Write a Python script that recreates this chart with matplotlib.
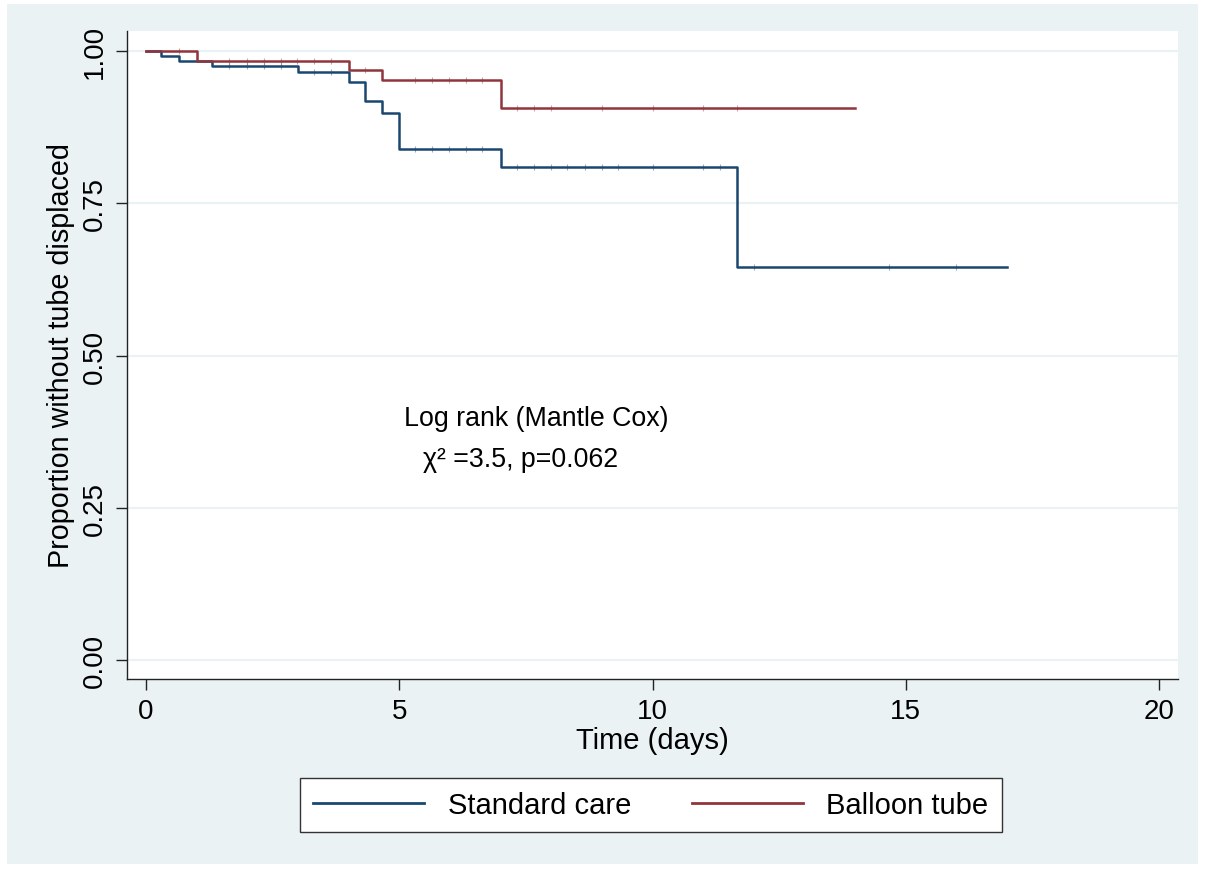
import numpy as np
import matplotlib
matplotlib.use("Agg")
import matplotlib.pyplot as plt
from matplotlib.patches import Rectangle

plt.rcParams["font.family"] = ["Liberation Sans", "DejaVu Sans"]

# Kaplan-Meier steps
std_times = [0, 0.3, 0.65, 1.3, 3.0, 4.0, 4.33, 4.65, 5.0, 7.0, 11.67, 17.0]
std_surv = [1.0, 0.992, 0.983, 0.975, 0.965, 0.95, 0.918, 0.899, 0.84, 0.81, 0.645, 0.645]
std_censor = [1.64, 2.0, 2.32, 2.66, 3.32, 3.65, 5.32, 5.65, 5.98, 6.31, 6.64,
              7.32, 7.67, 8.0, 8.32, 8.66, 9.0, 9.32, 10.0, 11.0, 11.33,
              12.0, 14.67, 16.0]

bal_times = [0, 1.0, 4.0, 4.65, 7.0, 14.0]
bal_surv = [1.0, 0.983, 0.969, 0.952, 0.907, 0.907]
bal_censor = [0.65, 1.64, 2.0, 2.32, 2.66, 2.99, 3.32, 3.65, 4.32, 5.32, 5.65,
              5.98, 6.31, 6.64, 7.32, 7.67, 8.0, 9.0, 10.0, 11.0, 11.67]

labels = ["Standard care", "Balloon tube"]
x_ticks = [0, 5, 10, 15, 20]
y_ticks = [0.0, 0.25, 0.5, 0.75, 1.0]

blue = "#1a476f"
red = "#90353b"
bg = "#eaf2f3"


def surv_at(times, surv, t):
    idx = np.searchsorted(times, t, side="right") - 1
    return np.array(surv)[idx]


fig = plt.figure(figsize=(12.05, 8.7), dpi=100)
fig.patch.set_facecolor("white")
fig.add_artist(Rectangle((7 / 1205, 5 / 870), 1191 / 1205, 860 / 870,
                         transform=fig.transFigure, facecolor=bg,
                         edgecolor="none", zorder=-5))

ax = fig.add_axes([127 / 1205, 190 / 870, 1051 / 1205, 648 / 870])
ax.set_zorder(1)
ax.set_facecolor("white")

for y in y_ticks:
    ax.axhline(y, color=bg, lw=1.6, zorder=1)

l1, = ax.step(std_times, std_surv, where="post", color=blue, lw=1.8, zorder=3)
l2, = ax.step(bal_times, bal_surv, where="post", color=red, lw=1.8, zorder=3)

ax.plot(std_censor, surv_at(std_times, std_surv, std_censor), ls="none",
        marker="|", ms=5, mew=0.8, color=blue, alpha=0.45, zorder=4)
ax.plot(bal_censor, surv_at(bal_times, bal_surv, bal_censor), ls="none",
        marker="|", ms=5, mew=0.8, color=red, alpha=0.45, zorder=4)

ax.set_xlim(-0.375, 20.375)
ax.set_ylim(-0.031, 1.033)
ax.set_xticks(x_ticks)
ax.set_yticks(y_ticks)
ax.set_yticklabels([f"{v:.2f}" for v in y_ticks], rotation=90, va="center")
ax.tick_params(axis="both", labelsize=20, length=8, width=1, color="#222222", pad=6)

for s in ["top", "right"]:
    ax.spines[s].set_visible(False)
for s in ["left", "bottom"]:
    ax.spines[s].set_color("#222222")
    ax.spines[s].set_linewidth(1)

ax.set_xlabel("Time (days)", fontsize=21, labelpad=1)
ax.set_ylabel("Proportion without tube displaced", fontsize=20.7, labelpad=5)

ax.text(7.7, 0.397, "Log rank (Mantle Cox)", fontsize=19.3, ha="center", va="center")
ax.text(7.4, 0.33, "χ² =3.5, p=0.062", fontsize=19.3, ha="center", va="center")

leg = fig.legend([l1, l2], labels, loc="center", bbox_to_anchor=(651 / 1205, 1 - 806 / 870),
                 ncol=2, fontsize=21, frameon=True, fancybox=False, handlelength=3.8,
                 handletextpad=0.8, columnspacing=2.1, borderpad=0.45,
                 framealpha=1, facecolor="white")
leg.get_frame().set_edgecolor("#333333")
leg.get_frame().set_linewidth(1)
for h in leg.get_lines():
    h.set_linewidth(2)

fig.savefig("out.png", dpi=100, facecolor=fig.get_facecolor())
